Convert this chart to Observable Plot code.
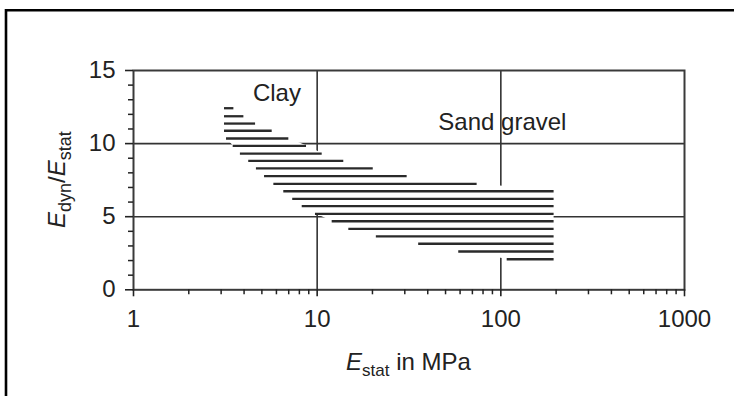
<!DOCTYPE html>
<html>
<head>
<meta charset="utf-8">
<script src="https://cdn.jsdelivr.net/npm/d3@7"></script>
<script src="https://cdn.jsdelivr.net/npm/@observablehq/plot@0.6"></script>
<style>
  html, body { margin: 0; padding: 0; background: #fff; }
  #chart svg { display: block; }
</style>
</head>
<body>
<div id="chart"></div>
<script>
// Hatched band: one horizontal line per level (E_dyn/E_stat), spanning E_stat from start to end (MPa)
const bandY     = [12.42, 11.87, 11.37, 10.88, 10.35, 9.85, 9.32, 8.82, 8.30, 7.77, 7.25, 6.74, 6.22, 5.72, 5.20, 4.69, 4.17, 3.65, 3.15, 2.62, 2.09];
const bandStart = [3.13, 3.13, 3.13, 3.13, 3.21, 3.49, 3.82, 4.24, 4.67, 5.17, 5.81, 6.58, 7.36, 8.29, 9.79, 12.07, 14.87, 21.0, 35.7, 59.0, 108.3];
const bandEnd   = [3.52, 3.99, 4.62, 5.69, 7.01, 8.75, 10.65, 13.96, 20.2, 30.9, 74.3, 195, 195, 195, 195, 195, 195, 195, 195, 195, 195];

// Axes
const xMajorTicks = [1, 10, 100, 1000];
const xMinorTicks = [2, 3, 4, 5, 6, 7, 8, 9, 20, 30, 40, 50, 60, 70, 80, 90, 200, 300, 400, 500, 600, 700, 800, 900];
const yMajorTicks = [0, 5, 10, 15];
const yMinorTicks = [1, 2, 3, 4, 6, 7, 8, 9, 11, 12, 13, 14];
const xGrid = [10, 100];
const yGrid = [5, 10];

// Annotations
const annText = ["Clay", "Sand gravel"];
const annX = [6.04, 102];
const annY = [12.88, 10.93];

const band = bandY.map((y, i) => ({y, start: bandStart[i], end: bandEnd[i]}));
const ann = annText.map((t, i) => ({t, x: annX[i], y: annY[i]}));

const W = 734, H = 396;
const M = {top: 70, right: 50, bottom: 106.7, left: 133};
const FONT = "'Liberation Sans', Arial, Helvetica, sans-serif";
const INK = "#222";

const plot = Plot.plot({
  width: W,
  height: H,
  marginTop: M.top,
  marginRight: M.right,
  marginBottom: M.bottom,
  marginLeft: M.left,
  style: {fontFamily: FONT, fontSize: "24px", color: INK, background: "#fff"},
  x: {type: "log", domain: [1, 1000], label: null},
  y: {domain: [0, 15], label: null},
  marks: [
    Plot.ruleX(xGrid, {stroke: "#333", strokeWidth: 1.6}),
    Plot.ruleY(yGrid, {stroke: "#333", strokeWidth: 1.6}),
    Plot.areaX(band, {y: "y", x1: "start", x2: "end", fill: "white", curve: "linear"}),
    Plot.ruleY(band, {y: "y", x1: "start", x2: "end", stroke: "#2a2a2a", strokeWidth: 2.3}),
    Plot.frame({stroke: "#3a3a3a", strokeWidth: 2}),
    Plot.axisX(xMajorTicks, {tickSize: 7, tickPadding: 13, fontSize: 24, tickFormat: d => String(d), strokeWidth: 1.6, label: null}),
    Plot.axisX(xMinorTicks, {tickSize: 5, tickFormat: () => "", strokeWidth: 1.5, label: null}),
    Plot.axisY(yMajorTicks, {tickSize: 8, tickPadding: 10, fontSize: 24, tickFormat: d => String(d), strokeWidth: 1.6, label: null}),
    Plot.axisY(yMinorTicks, {tickSize: 5, tickFormat: () => "", strokeWidth: 1.5, label: null}),
    Plot.text(ann, {x: "x", y: "y", text: "t", fontSize: 24, lineAnchor: "bottom", textAnchor: "middle", fill: INK})
  ]
});

const svg = d3.select(plot);

// Outer border of the figure (left and top edges visible)
svg.append("path")
  .attr("d", `M6,${H}V10.3H${W}`)
  .attr("fill", "none")
  .attr("stroke", "#000")
  .attr("stroke-width", 2.6);

// X axis title: E_stat in MPa
const cx = (M.left + (W - M.right)) / 2;
const xl = svg.append("text")
  .attr("x", cx)
  .attr("y", 369.5)
  .attr("text-anchor", "middle")
  .attr("font-family", FONT)
  .attr("font-size", 24)
  .attr("fill", INK);
xl.append("tspan").attr("font-style", "italic").text("E");
xl.append("tspan").attr("font-size", 17).attr("dy", 6).text("stat");
xl.append("tspan").attr("dy", -6).text(" in MPa");

// Y axis title: E_dyn / E_stat
const cy = (M.top + (H - M.bottom)) / 2;
const yl = svg.append("text")
  .attr("transform", `translate(65,${cy}) rotate(-90)`)
  .attr("text-anchor", "middle")
  .attr("font-family", FONT)
  .attr("font-size", 24)
  .attr("fill", INK);
yl.append("tspan").attr("font-style", "italic").text("E");
yl.append("tspan").attr("font-size", 18).attr("dy", 6).text("dyn");
yl.append("tspan").attr("dy", -6).text("/");
yl.append("tspan").attr("font-style", "italic").text("E");
yl.append("tspan").attr("font-size", 18).attr("dy", 6).text("stat");

document.getElementById("chart").appendChild(plot);
</script>
</body>
</html>
